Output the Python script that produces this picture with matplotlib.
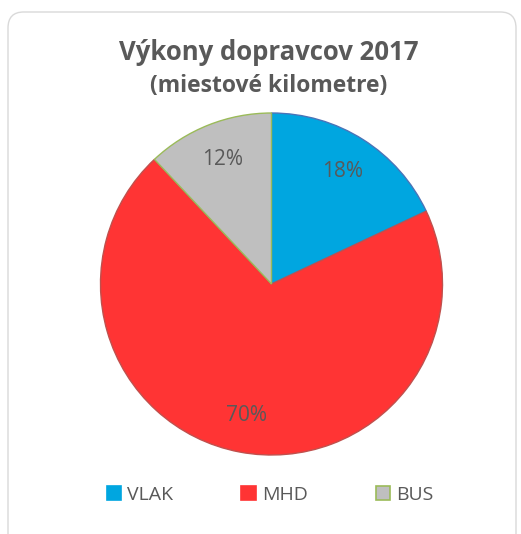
import matplotlib.pyplot as plt
from matplotlib.patches import FancyBboxPatch, Patch

labels = ['VLAK', 'MHD', 'BUS']
values = [18, 70, 12]
colors = ['#00A6E0', '#FF3434', '#BFBFBF']
edges = ['#4A74B8', '#C0504D', '#9BBB59']

plt.rcParams['font.family'] = ['Open Sans', 'DejaVu Sans']
txt = '#595959'

fig = plt.figure(figsize=(5.21, 5.34), dpi=100)

# rounded chart frame
fig.patches.append(FancyBboxPatch((8 / 521, -0.05), 508 / 521, 1 - 12 / 534 + 0.05,
                                  boxstyle='round,pad=0,rounding_size=0.03',
                                  transform=fig.transFigure, facecolor='none',
                                  edgecolor='#D9D9D9', lw=1.0, zorder=-1))

ax = fig.add_axes([100.5 / 521, (534 - 284 - 171) / 534, 342 / 521, 342 / 534])
wedges, _, autotexts = ax.pie(values, colors=colors, startangle=90, counterclock=False,
                              autopct='%1.0f%%', pctdistance=0.78,
                              wedgeprops=dict(linewidth=1.0),
                              textprops=dict(color=txt, fontsize=15))
for w, e in zip(wedges, edges):
    w.set_edgecolor(e)
ax.set_xlim(-1, 1)
ax.set_ylim(-1, 1)
ax.set_aspect('auto')
ax.axis('off')

fig.text(0.515, 1 - 53 / 534, 'Výkony dopravcov 2017', ha='center', va='center',
         fontsize=18.5, fontweight='bold', color=txt)
fig.text(0.515, 1 - 86 / 534, '(miestové kilometre)', ha='center', va='center',
         fontsize=16.5, fontweight='bold', color=txt)

handles = [Patch(facecolor=c, edgecolor=e if l == 'BUS' else c, lw=1.2) for c, e, l in zip(colors, edges, labels)]
fig.legend(handles, labels, loc='center', bbox_to_anchor=(270 / 521, 1 - 495 / 534), ncol=3,
           frameon=False, fontsize=14, labelcolor=txt, columnspacing=3.5,
           handlelength=0.75, handleheight=0.75, handletextpad=0.3)

fig.savefig('out.png', dpi=100)
